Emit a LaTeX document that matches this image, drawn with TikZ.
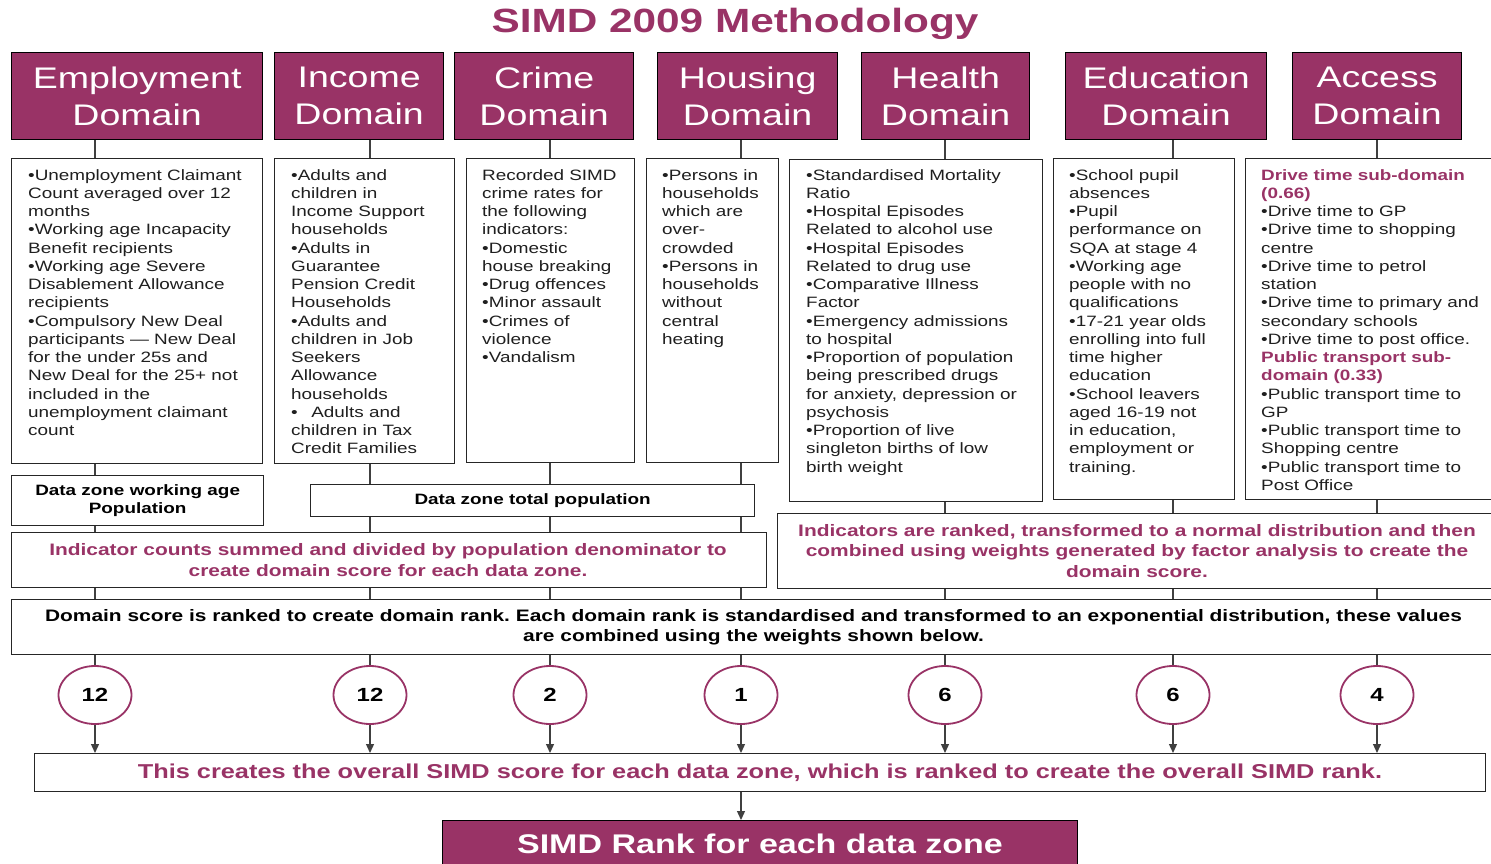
\documentclass[tikz,border=0pt]{standalone}
\usepackage{fontspec}
\setmainfont{Liberation Sans}[FakeStretch=1.26]
\usetikzlibrary{shapes.geometric,arrows.meta,calc}
\definecolor{simd}{HTML}{993366}
\frenchspacing
\newcommand\bodyf{\fontsize{15pt}{18.25pt}\selectfont}
\tikzset{
  head/.style={fill=simd, draw=black, line width=1.3pt, text=white, align=center,
    font=\fontsize{29.8pt}{37pt}\selectfont, inner sep=0pt, anchor=north west},
  bodybox/.style={draw=black!85, line width=1.3pt, fill=white, inner sep=0pt, anchor=north west},
  btext/.style={align=left, inner sep=0pt, anchor=north west, text=black!88, font=\bodyf},
  lowbox/.style={draw=black!85, line width=1.3pt, fill=white, inner sep=0pt, anchor=north west},
  ltext/.style={align=center, inner sep=0pt, font=\bodyf\bfseries},
  wtext/.style={align=center, inner sep=0pt, font=\fontsize{16.6pt}{20.3pt}\selectfont\bfseries},
  weight/.style={ellipse, draw=simd, line width=1.8pt, fill=white, minimum width=73pt,
    minimum height=58pt, inner sep=0pt, font=\fontsize{19pt}{22pt}\selectfont\bfseries},
  conn/.style={draw=black!75, line width=1.3pt},
  arr/.style={conn, -{Triangle[length=9pt,width=8pt]}}
}
\begin{document}
\begin{tikzpicture}[x=1pt,y=-1pt]
\useasboundingbox (0,0) rectangle (1491,864);
\clip (0,0) rectangle (1491,864);
\fill[white] (0,0) rectangle (1491,864);

% columns
\coordinate (c1) at (95,0);
\coordinate (c2) at (370,0);
\coordinate (c3) at (550,0);
\coordinate (c4) at (741,0);
\coordinate (c5) at (945,0);
\coordinate (c6) at (1173,0);
\coordinate (c7) at (1377,0);

% title
\node[font=\fontsize{33.6pt}{38pt}\selectfont\bfseries, text=simd, inner sep=0pt] (title) at (735,24) {SIMD 2009 Methodology};

% headers
\node[head, minimum width=251pt, minimum height=87pt] (h1) at (11,52) {Employment\\Domain};
\node[head, minimum width=169pt, minimum height=87pt] (h2) at (274,52) {Income\\Domain};
\node[head, minimum width=179pt, minimum height=87pt] (h3) at (454,52) {Crime\\Domain};
\node[head, minimum width=180pt, minimum height=87pt] (h4) at (657,52) {Housing\\Domain};
\node[head, minimum width=168pt, minimum height=87pt] (h5) at (861,52) {Health\\Domain};
\node[head, minimum width=201pt, minimum height=87pt] (h6) at (1065,52) {Education\\Domain};
\node[head, minimum width=169pt, minimum height=87pt] (h7) at (1292,52) {Access\\Domain};

% body boxes
\node[bodybox, minimum width=251pt, minimum height=305pt] (b1) at (11,158) {};
\node[bodybox, minimum width=180pt, minimum height=305pt] (b2) at (274,158) {};
\node[bodybox, minimum width=168pt, minimum height=304pt] (b3) at (466,158) {};
\node[bodybox, minimum width=132pt, minimum height=304pt] (b4) at (646,158) {};
\node[bodybox, minimum width=253pt, minimum height=342pt] (b5) at (789,159) {};
\node[bodybox, minimum width=181pt, minimum height=341pt] (b6) at (1053,158) {};
\node[bodybox, minimum width=252pt, minimum height=341pt] (b7) at (1245,158) {};

\node[btext] (t1) at ($(b1.north west)+(17,11)$) {%
•Unemployment Claimant\\Count averaged over 12\\months\\•Working age Incapacity\\Benefit recipients\\%
•Working age Severe\\Disablement Allowance\\recipients\\•Compulsory New Deal\\participants — New Deal\\%
for the under 25s and\\New Deal for the 25+ not\\included in the\\unemployment claimant\\count};
\node[btext] (t2) at ($(b2.north west)+(17,11)$) {%
•Adults and\\children in\\Income Support\\households\\•Adults in\\Guarantee\\Pension Credit\\Households\\%
•Adults and\\children in Job\\Seekers\\Allowance\\households\\•\hspace{0.9em}Adults and\\children in Tax\\Credit Families};
\node[btext] (t3) at ($(b3.north west)+(16,11)$) {%
Recorded SIMD\\crime rates for\\the following\\indicators:\\•Domestic\\house breaking\\•Drug offences\\%
•Minor assault\\•Crimes of\\violence\\•Vandalism};
\node[btext] (t4) at ($(b4.north west)+(16,11)$) {%
•Persons in\\households\\which are\\over-\\crowded\\•Persons in\\households\\without\\central\\heating};
\node[btext] (t5) at ($(b5.north west)+(17,10)$) {%
•Standardised Mortality\\Ratio\\•Hospital Episodes\\Related to alcohol use\\•Hospital Episodes\\%
Related to drug use\\•Comparative Illness\\Factor\\•Emergency admissions\\to hospital\\%
•Proportion of population\\being prescribed drugs\\for anxiety, depression or\\psychosis\\%
•Proportion of live\\singleton births of low\\birth weight};
\node[btext] (t6) at ($(b6.north west)+(16,11)$) {%
•School pupil\\absences\\•Pupil\\performance on\\SQA at stage 4\\•Working age\\people with no\\%
qualifications\\•17-21 year olds\\enrolling into full\\time higher\\education\\•School leavers\\%
aged 16-19 not\\in education,\\employment or\\training.};
\node[btext] (t7) at ($(b7.north west)+(16,11)$) {%
{\color{simd}\bfseries Drive time sub-domain}\\{\color{simd}\bfseries (0.66)}\\•Drive time to GP\\%
•Drive time to shopping\\centre\\•Drive time to petrol\\station\\•Drive time to primary and\\%
secondary schools\\•Drive time to post office.\\{\color{simd}\bfseries Public transport sub-}\\%
{\color{simd}\bfseries domain (0.33)}\\•Public transport time to\\GP\\•Public transport time to\\%
Shopping centre\\•Public transport time to\\Post Office};

% lower boxes
\node[lowbox, minimum width=252pt, minimum height=50pt] (wa) at (11,475) {};
\node[ltext] at (wa.center) {Data zone working age\\Population};
\node[lowbox, minimum width=444pt, minimum height=32pt] (tp) at (310,484) {};
\node[ltext] at (tp.center) {Data zone total population};
\node[lowbox, minimum width=755pt, minimum height=55pt] (ic) at (11,532) {};
\node[wtext, text=simd] at (388,560) {Indicator counts summed and divided by population denominator to\\create domain score for each data zone.};
\node[lowbox, minimum width=720pt, minimum height=75pt] (ir) at (777,513) {};
\node[wtext, text=simd] at (1137,551) {Indicators are ranked, transformed to a normal distribution and then\\combined using weights generated by factor analysis to create the\\domain score.};
\node[lowbox, minimum width=1486pt, minimum height=55pt] (ds) at (11,599) {};
\node[wtext] at (753.5,627) {Domain score is ranked to create domain rank. Each domain rank is standardised and transformed to an exponential distribution, these values\\are combined using the weights shown below.};

% weights
\node[weight] (k1) at (95,695) {12};
\node[weight] (k2) at (370,695) {12};
\node[weight] (k3) at (550,695) {2};
\node[weight] (k4) at (741,695) {1};
\node[weight] (k5) at (945,695) {6};
\node[weight] (k6) at (1173,695) {6};
\node[weight] (k7) at (1377,695) {4};

\node[lowbox, minimum width=1451pt, minimum height=38pt] (tc) at (34,753) {};
\node[ltext, text=simd, font=\fontsize{20.1pt}{23pt}\selectfont\bfseries] at (760,773) {This creates the overall SIMD score for each data zone, which is ranked to create the overall SIMD rank.};

\node[head, minimum width=635pt, minimum height=50pt] (sr) at (442,820) {};
\node[text=white, font=\fontsize{27pt}{30pt}\selectfont\bfseries, inner sep=0pt] at (760,844) {SIMD Rank for each data zone};

% connectors
\foreach \i in {1,...,7} {\draw[conn] (h\i.south -| c\i) -- (b\i.north -| c\i);}
\draw[conn] (b1.south -| c1) -- (wa.north -| c1);
\draw[conn] (wa.south -| c1) -- (ic.north -| c1);
\foreach \i in {2,3,4} {
  \draw[conn] (b\i.south -| c\i) -- (tp.north -| c\i);
  \draw[conn] (tp.south -| c\i) -- (ic.north -| c\i);
}
\foreach \i in {1,...,4} {\draw[conn] (ic.south -| c\i) -- (ds.north -| c\i);}
\foreach \i in {5,6,7} {
  \draw[conn] (b\i.south -| c\i) -- (ir.north -| c\i);
  \draw[conn] (ir.south -| c\i) -- (ds.north -| c\i);
}
\foreach \i in {1,...,7} {
  \draw[conn] (ds.south -| c\i) -- (k\i.north);
  \draw[arr] (k\i.south) -- (tc.north -| c\i);
}
\draw[arr] (tc.south -| c4) -- (sr.north -| c4);
\end{tikzpicture}
\end{document}
